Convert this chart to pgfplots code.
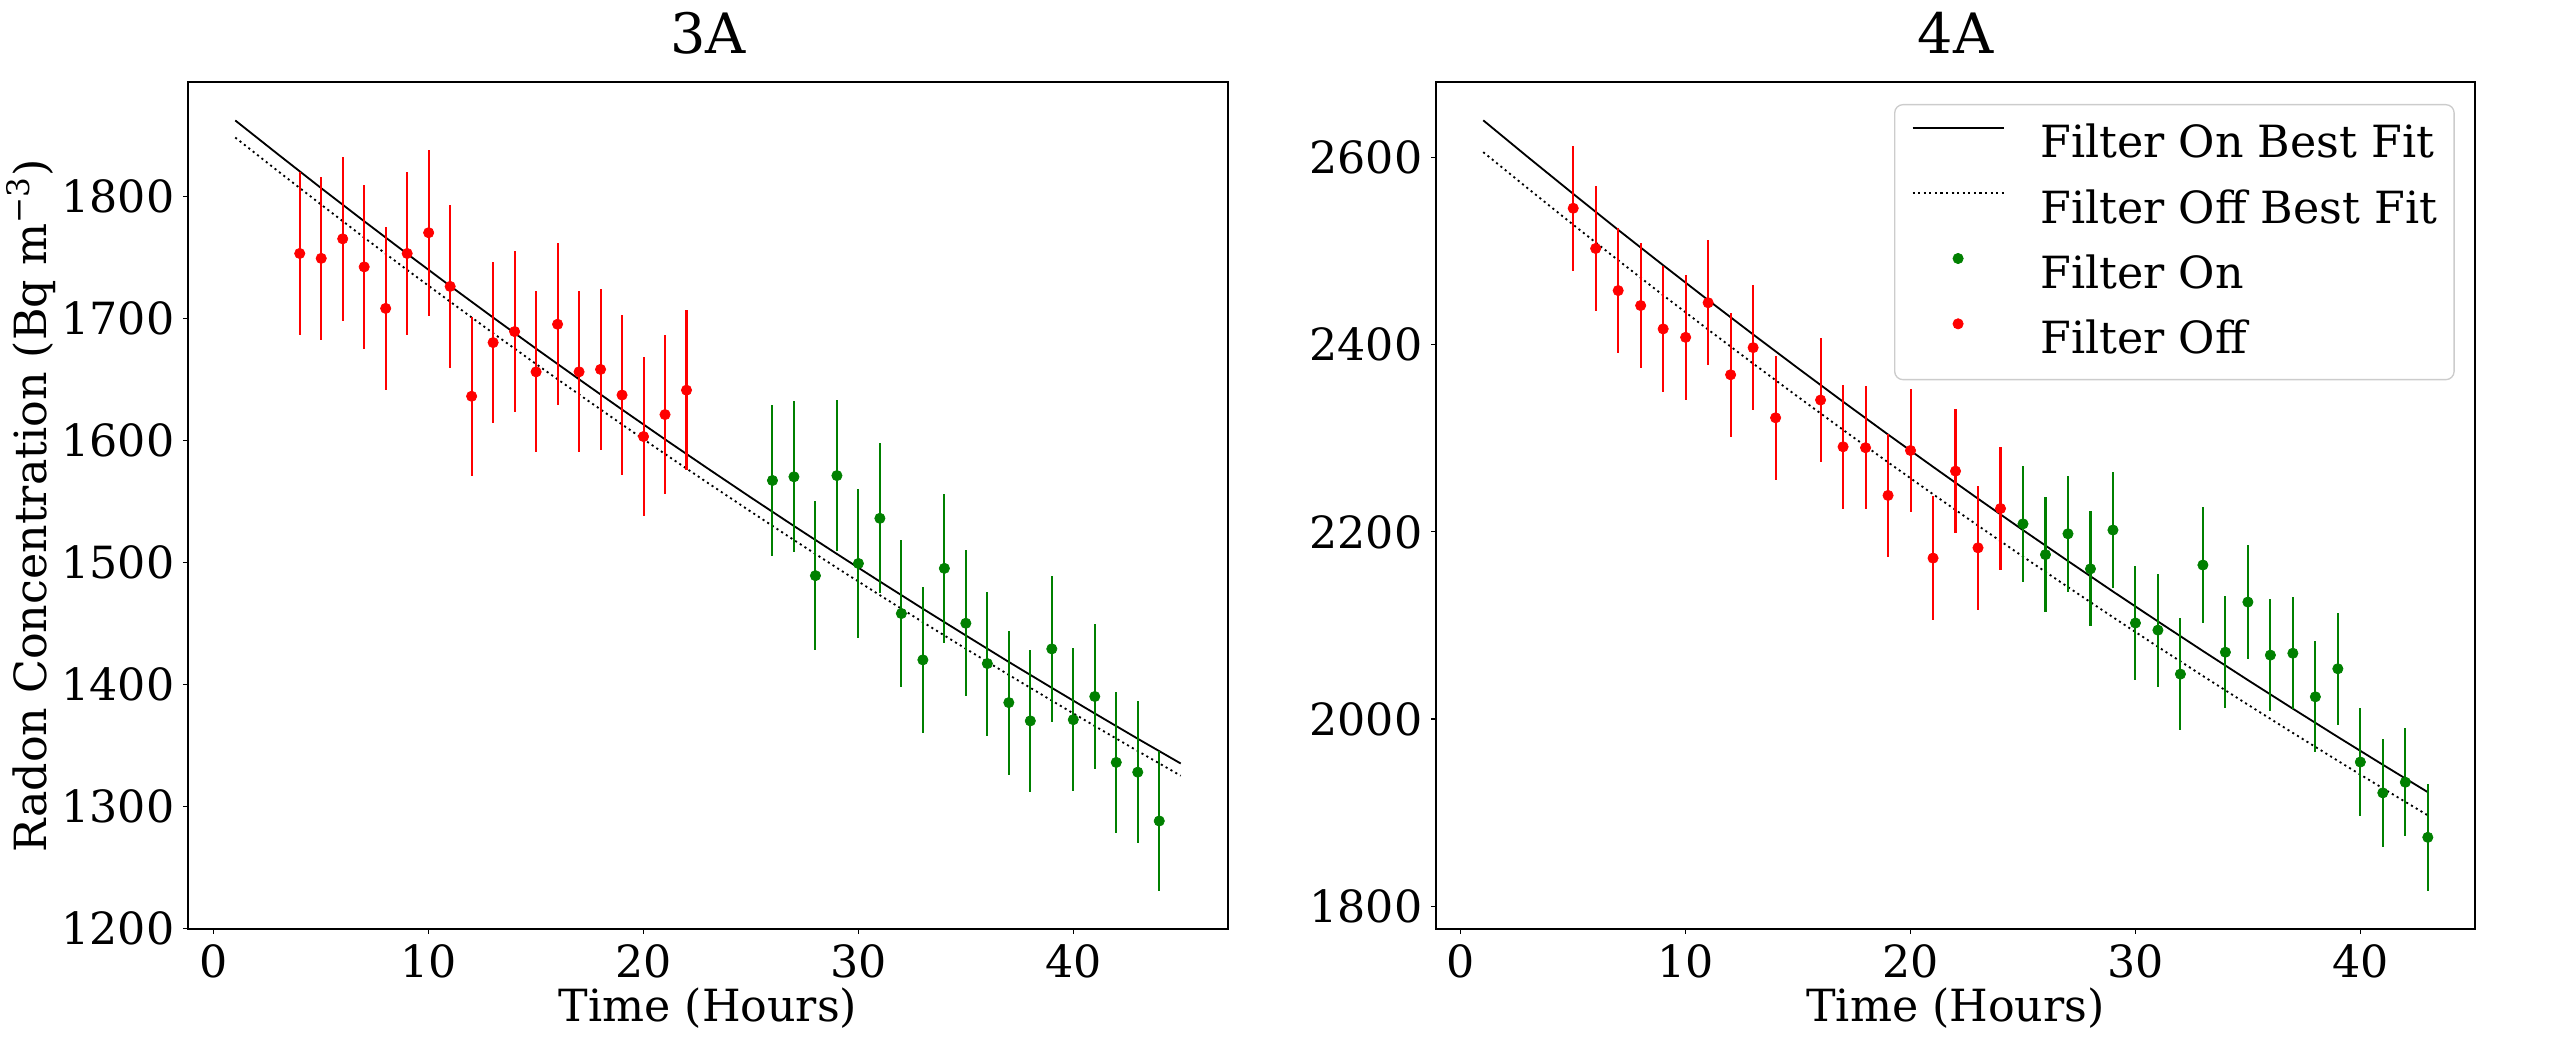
\documentclass[border=0pt]{standalone}
\usepackage{fontspec}
\setmainfont{DejaVu Serif}
\usepackage{pgfplots}
\usepackage{pgfplotstable}
\pgfplotsset{compat=1.18}

\pgfplotstableread{
x y e
4 1753 67
5 1749 67
6 1765 67
7 1742 67
8 1708 66.5
9 1753 67
10 1770 68
11 1726 67
12 1636 65
13 1680 66
14 1689 66
15 1656 66
16 1695 66.5
17 1656 66
18 1658 66
19 1637 65.5
20 1603 65
21 1621 65
22 1641 65.5
}\leftred
\pgfplotstableread{
x y e
26 1567 62
27 1570 62
28 1489 61
29 1571 62
30 1499 61
31 1536 61.5
32 1458 60
33 1420 59.5
34 1495 61
35 1450 60
36 1417 59
37 1385 59
38 1370 58.5
39 1429 59.5
40 1371 58.5
41 1390 59
42 1336 58
43 1328 58
44 1288 57
}\leftgreen
\pgfplotstableread{
x y
1 1862.0
3 1834.1
5 1806.5
7 1779.4
9 1752.7
11 1726.4
13 1700.5
15 1675.0
17 1649.9
19 1625.1
21 1600.7
23 1576.7
25 1553.0
27 1529.7
29 1506.8
31 1484.2
33 1461.9
35 1440.0
37 1418.3
39 1397.1
41 1376.1
43 1355.4
45 1335.1
}\lefton
\pgfplotstableread{
x y
1 1848.0
3 1820.3
5 1793.0
7 1766.0
9 1739.5
11 1713.5
13 1687.7
15 1662.4
17 1637.5
19 1612.9
21 1588.7
23 1564.9
25 1541.4
27 1518.2
29 1495.4
31 1473.0
33 1450.9
35 1429.1
37 1407.7
39 1386.6
41 1365.8
43 1345.3
45 1325.1
}\leftoff
\pgfplotstableread{
x y e
5 2546 67
6 2503 67
7 2458 67
8 2442 67
9 2417 67
10 2408 67
11 2445 67
12 2368 66.5
13 2397 66.5
14 2322 66
16 2341 66
17 2291 66
18 2290 66
19 2239 66
20 2287 66
21 2172 66
22 2265 66
23 2183 66
24 2225 66
}\rightred
\pgfplotstableread{
x y e
25 2208.6 62
26 2175.7 61.6
27 2198 62
28 2160.5 61.4
29 2202 62
30 2102.6 60.5
31 2095 60.4
32 2048 59.7
33 2164.6 61.5
34 2071.4 60
35 2125 60.9
36 2068.3 60
37 2070.3 60
38 2023.7 59.3
39 2053.7 59.8
40 1954 58.2
41 1921 57.7
42 1932.4 57.9
43 1873.5 57
}\rightgreen
\pgfplotstableread{
x y
1 2640.0
3 2600.4
5 2561.4
7 2522.9
9 2485.1
11 2447.8
13 2411.1
15 2374.9
17 2339.2
19 2304.1
21 2269.6
23 2235.5
25 2201.9
27 2168.9
29 2136.3
31 2104.3
33 2072.7
35 2041.6
37 2011.0
39 1980.8
41 1951.1
43 1921.8
}\righton
\pgfplotstableread{
x y
1 2606.0
3 2566.9
5 2528.4
7 2490.4
9 2453.0
11 2416.3
13 2380.0
15 2344.3
17 2309.1
19 2274.4
21 2240.3
23 2206.7
25 2173.6
27 2141.0
29 2108.8
31 2077.2
33 2046.0
35 2015.3
37 1985.1
39 1955.3
41 1925.9
43 1897.0
}\rightoff

\definecolor{mplgreen}{RGB}{0,128,0}

\pgfplotsset{
  panel/.style={
    anchor=south west,
    scale only axis,
    height=254.1pt,
    font=\fontsize{13.3}{16}\selectfont,
    /pgf/number format/assume math mode=true,
    /pgf/number format/1000 sep={},
    tick align=outside,
    major tick length=1.5pt,
    xtick pos=bottom,
    ytick pos=left,
    minor tick num=0,
    xtick={0,10,20,30,40},
    axis line style={line width=0.33pt},
    tick style={line width=0.33pt, black},
    xticklabel style={anchor=north, inner sep=0pt, yshift=-3pt},
    yticklabel style={anchor=east, inner sep=0pt, xshift=-2.4pt},
    title style={font=\fontsize{16.7}{20}\selectfont, at={(axis description cs:0.5,1)}, anchor=base, yshift=2.4pt, inner sep=0pt},
    xlabel style={at={(axis description cs:0.5,0)}, anchor=base, yshift=-27.9pt, inner sep=0pt},
    xlabel={Time (Hours)},
    clip=true,
  },
  fiton/.style={black, line width=0.55pt, mark=none, solid},
  fitoff/.style={black, line width=0.55pt, mark=none, dash pattern=on 0.63pt off 1.04pt},
  pts/.style={only marks, mark=*, mark size=1.55pt, mark options={solid, fill=#1, draw=#1, line width=0.2pt},
    error bars/.cd, y dir=both, y explicit, error mark=none,
    error bar style={line width=0.62pt, #1, solid}},
}

\begin{document}
\begin{tikzpicture}[x=1pt,y=1pt]
\path[use as bounding box] (0,0) rectangle (768,313.2);

\begin{axis}[panel,
  at={(56.4pt,34.5pt)},
  width=312pt,
  xmin=-1.2, xmax=47.2,
  ymin=1199.5, ymax=1893.5,
  ytick={1200,1300,1400,1500,1600,1700,1800},
  title={3A},
  ylabel={Radon Concentration (Bq m\textsuperscript{−3})},
  ylabel style={at={(axis description cs:-0.1359,0.5)}, anchor=base, inner sep=0pt},
]
\addplot[fiton] table[x=x,y=y] {\lefton};
\addplot[fitoff] table[x=x,y=y] {\leftoff};
\addplot[pts=mplgreen] table[x=x,y=y,y error=e] {\leftgreen};
\addplot[pts=red] table[x=x,y=y,y error=e] {\leftred};
\end{axis}

\begin{axis}[panel,
  at={(430.8pt,34.5pt)},
  width=311.7pt,
  xmin=-1.1, xmax=45.1,
  ymin=1775.5, ymax=2681,
  ytick={1800,2000,2200,2400,2600},
  title={4A},
  legend style={at={(axis description cs:0.4408,0.974)}, anchor=north west,
    draw=black!20, line width=0.4pt, rounded corners=2.5pt, fill=white,
    font=\fontsize{13.3}{16}\selectfont,
    inner xsep=5.1pt, inner ysep=4pt,
    nodes={inner sep=0pt, text height=12pt, text depth=3.7pt},
    row sep=3.9pt, column sep=0pt},
  legend cell align=left,
  legend image code/.code={\draw[mark repeat=2,mark phase=2,#1] plot coordinates {(0pt,4.9pt)(13.65pt,4.9pt)(27.3pt,4.9pt)}; \path (38.1pt,4.9pt);},
]
\addplot[fiton] table[x=x,y=y] {\righton};
\addlegendentry{Filter On Best Fit}
\addplot[fitoff] table[x=x,y=y] {\rightoff};
\addlegendentry{Filter Off Best Fit}
\addplot[pts=mplgreen] table[x=x,y=y,y error=e] {\rightgreen};
\addlegendentry{Filter On}
\addplot[pts=red] table[x=x,y=y,y error=e] {\rightred};
\addlegendentry{Filter Off}
\end{axis}
\end{tikzpicture}
\end{document}
